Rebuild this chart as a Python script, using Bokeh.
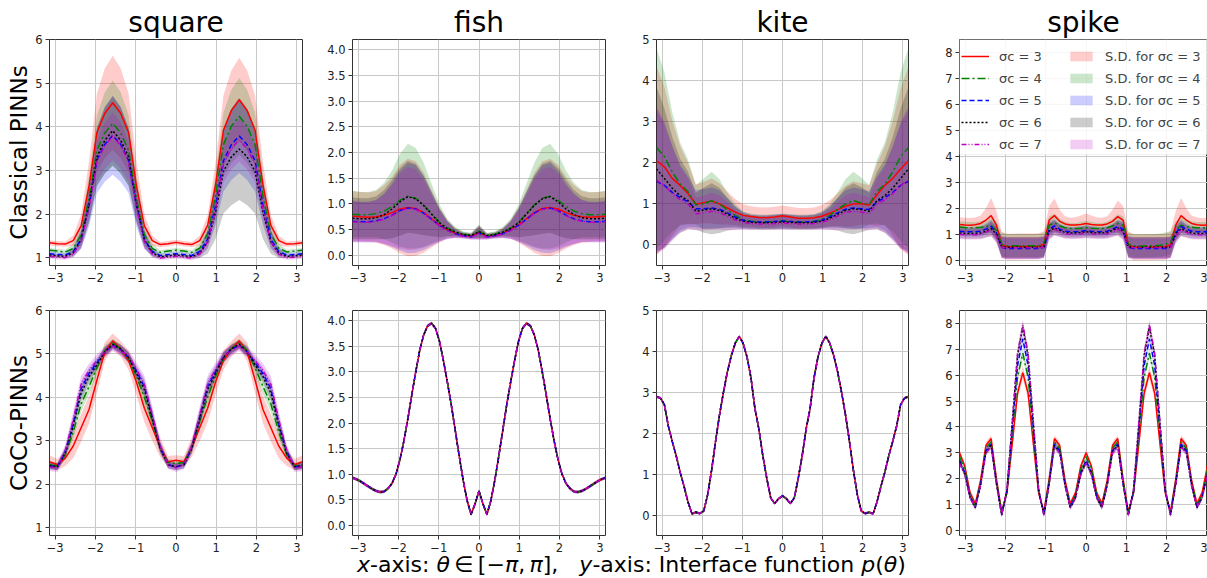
import numpy as np
from bokeh.plotting import figure
from bokeh.layouts import column, row
from bokeh.models import (Range1d, FixedTicker, Legend, LegendItem, Div,
                          PrintfTickFormatter, BoxAnnotation)
from bokeh.embed import file_html
from bokeh.resources import INLINE

# ---------------- data ----------------
shapes = ["square", "fish", "kite", "spike"]
row_names = ["Classical PINNs", "CoCo-PINNs"]
sigmas = [3, 4, 5, 6, 7]
x_ticks = [-3, -2, -1, 0, 1, 2, 3]

theta33 = np.linspace(-np.pi, np.pi, 33)
theta49 = np.linspace(-np.pi, np.pi, 49)
theta65 = np.linspace(-np.pi, np.pi, 65)

# --- Classical PINNs / square (33 samples) ---
sq_top_m3 = [1.34, 1.32, 1.31, 1.39, 1.73, 2.64, 3.87, 4.31, 4.55, 4.31, 3.87,
             2.64, 1.73, 1.39, 1.30, 1.32, 1.35, 1.32, 1.30, 1.39, 1.74, 2.67,
             3.92, 4.37, 4.62, 4.37, 3.92, 2.67, 1.74, 1.39, 1.31, 1.32, 1.34]
sq_top_m4 = [1.17, 1.15, 1.13, 1.21, 1.52, 2.35, 3.46, 3.86, 4.08, 3.86, 3.46,
             2.35, 1.52, 1.21, 1.12, 1.15, 1.17, 1.15, 1.12, 1.22, 1.54, 2.41,
             3.59, 4.01, 4.24, 4.01, 3.59, 2.41, 1.54, 1.22, 1.13, 1.15, 1.17]
sq_top_m5 = [1.09, 1.07, 1.06, 1.14, 1.42, 2.19, 3.23, 3.60, 3.80, 3.60, 3.23,
             2.19, 1.42, 1.14, 1.05, 1.07, 1.09, 1.07, 1.05, 1.14, 1.42, 2.19,
             3.22, 3.59, 3.79, 3.59, 3.22, 2.19, 1.42, 1.14, 1.06, 1.07, 1.09]
sq_top_m6 = [1.06, 1.04, 1.03, 1.11, 1.41, 2.22, 3.31, 3.69, 3.91, 3.69, 3.31,
             2.22, 1.41, 1.11, 1.02, 1.04, 1.06, 1.04, 1.02, 1.10, 1.36, 2.04,
             2.98, 3.31, 3.49, 3.31, 2.98, 2.04, 1.36, 1.10, 1.03, 1.04, 1.06]
sq_top_m7 = [1.03, 1.01, 1.00, 1.08, 1.37, 2.15, 3.20, 3.57, 3.78, 3.57, 3.20,
             2.15, 1.37, 1.08, 0.99, 1.01, 1.03, 1.01, 0.99, 1.08, 1.36, 2.11,
             3.14, 3.50, 3.70, 3.50, 3.14, 2.11, 1.36, 1.08, 1.00, 1.01, 1.03]
sq_top_sd3 = [0.06, 0.06, 0.06, 0.12, 0.26, 0.57, 0.90, 1.03, 1.08, 1.03, 0.90,
              0.57, 0.26, 0.12, 0.06, 0.06, 0.06, 0.06, 0.06, 0.11, 0.24, 0.51,
              0.80, 0.92, 0.96, 0.92, 0.80, 0.51, 0.24, 0.11, 0.06, 0.06, 0.06]
sq_top_sd4 = [0.05, 0.05, 0.05, 0.11, 0.24, 0.52, 0.81, 0.93, 0.98, 0.93, 0.81,
              0.52, 0.24, 0.11, 0.05, 0.05, 0.05, 0.05, 0.05, 0.10, 0.22, 0.47,
              0.73, 0.84, 0.88, 0.84, 0.73, 0.47, 0.22, 0.10, 0.05, 0.05, 0.05]
sq_top_sd5 = [0.05, 0.05, 0.05, 0.10, 0.22, 0.48, 0.75, 0.86, 0.90, 0.86, 0.75,
              0.48, 0.22, 0.10, 0.05, 0.05, 0.05, 0.05, 0.05, 0.10, 0.21, 0.45,
              0.71, 0.81, 0.85, 0.81, 0.71, 0.45, 0.21, 0.10, 0.05, 0.05, 0.05]
sq_top_sd6 = [0.04, 0.04, 0.04, 0.09, 0.19, 0.42, 0.66, 0.76, 0.80, 0.76, 0.66,
              0.42, 0.19, 0.09, 0.04, 0.04, 0.04, 0.04, 0.04, 0.11, 0.27, 0.61,
              0.97, 1.11, 1.17, 1.11, 0.97, 0.61, 0.27, 0.11, 0.04, 0.04, 0.04]
sq_top_sd7 = [0.05, 0.05, 0.05, 0.08, 0.15, 0.30, 0.46, 0.53, 0.55, 0.53, 0.46,
              0.30, 0.15, 0.08, 0.05, 0.05, 0.05, 0.05, 0.05, 0.08, 0.14, 0.28,
              0.42, 0.48, 0.50, 0.48, 0.42, 0.28, 0.14, 0.08, 0.05, 0.05, 0.05]

# --- Classical PINNs / fish (33 samples) ---
fi_top_m3 = [0.76, 0.75, 0.74, 0.75, 0.78, 0.83, 0.90, 0.93, 0.91, 0.83, 0.71,
             0.59, 0.50, 0.43, 0.39, 0.37, 0.44, 0.37, 0.39, 0.43, 0.50, 0.59,
             0.71, 0.83, 0.91, 0.93, 0.90, 0.83, 0.78, 0.75, 0.74, 0.75, 0.76]
fi_top_m4 = [0.80, 0.79, 0.79, 0.81, 0.86, 0.95, 1.07, 1.15, 1.11, 0.98, 0.81,
             0.64, 0.53, 0.46, 0.41, 0.39, 0.47, 0.39, 0.41, 0.46, 0.53, 0.64,
             0.81, 0.98, 1.11, 1.15, 1.07, 0.95, 0.86, 0.81, 0.79, 0.79, 0.80]
fi_top_m5 = [0.66, 0.65, 0.65, 0.67, 0.71, 0.78, 0.87, 0.92, 0.90, 0.82, 0.70,
             0.58, 0.49, 0.42, 0.38, 0.36, 0.43, 0.36, 0.38, 0.42, 0.49, 0.58,
             0.70, 0.82, 0.90, 0.92, 0.87, 0.78, 0.71, 0.67, 0.65, 0.65, 0.66]
fi_top_m6 = [0.72, 0.71, 0.71, 0.73, 0.79, 0.90, 1.04, 1.14, 1.10, 0.97, 0.80,
             0.63, 0.52, 0.45, 0.40, 0.38, 0.46, 0.38, 0.40, 0.45, 0.52, 0.63,
             0.80, 0.97, 1.10, 1.14, 1.04, 0.90, 0.79, 0.73, 0.71, 0.71, 0.72]
fi_top_m7 = [0.65, 0.64, 0.64, 0.66, 0.70, 0.77, 0.86, 0.91, 0.89, 0.81, 0.69,
             0.57, 0.48, 0.41, 0.37, 0.35, 0.42, 0.35, 0.37, 0.41, 0.48, 0.57,
             0.69, 0.81, 0.89, 0.91, 0.86, 0.77, 0.70, 0.66, 0.64, 0.64, 0.65]
fi_top_sd3 = [0.49, 0.48, 0.48, 0.50, 0.58, 0.70, 0.86, 0.95, 0.92, 0.78, 0.56,
              0.34, 0.18, 0.09, 0.05, 0.05, 0.13, 0.05, 0.05, 0.09, 0.18, 0.34,
              0.56, 0.78, 0.92, 0.95, 0.86, 0.70, 0.58, 0.50, 0.48, 0.48, 0.49]
fi_top_sd4 = [0.45, 0.44, 0.44, 0.46, 0.55, 0.70, 0.90, 1.02, 0.98, 0.82, 0.58,
              0.35, 0.18, 0.09, 0.05, 0.05, 0.13, 0.05, 0.05, 0.09, 0.18, 0.35,
              0.58, 0.82, 0.98, 1.02, 0.90, 0.70, 0.55, 0.46, 0.44, 0.44, 0.45]
fi_top_sd5 = [0.40, 0.39, 0.39, 0.41, 0.49, 0.62, 0.78, 0.88, 0.85, 0.72, 0.52,
              0.32, 0.17, 0.08, 0.05, 0.05, 0.12, 0.05, 0.05, 0.08, 0.17, 0.32,
              0.52, 0.72, 0.85, 0.88, 0.78, 0.62, 0.49, 0.41, 0.39, 0.39, 0.40]
fi_top_sd6 = [0.41, 0.40, 0.40, 0.42, 0.48, 0.57, 0.66, 0.70, 0.68, 0.58, 0.43,
              0.28, 0.15, 0.08, 0.05, 0.05, 0.12, 0.05, 0.05, 0.08, 0.15, 0.28,
              0.43, 0.58, 0.68, 0.70, 0.66, 0.57, 0.48, 0.42, 0.40, 0.40, 0.41]
fi_top_sd7 = [0.40, 0.39, 0.39, 0.41, 0.48, 0.59, 0.73, 0.81, 0.78, 0.66, 0.48,
              0.30, 0.16, 0.08, 0.05, 0.05, 0.12, 0.05, 0.05, 0.08, 0.16, 0.30,
              0.48, 0.66, 0.78, 0.81, 0.73, 0.59, 0.48, 0.41, 0.39, 0.39, 0.40]

# --- Classical PINNs / kite (33 samples) ---
ki_top_m3 = [2.05, 1.90, 1.62, 1.45, 1.25, 0.99, 1.03, 1.07, 1.00, 0.90, 0.80,
             0.72, 0.69, 0.67, 0.66, 0.68, 0.71, 0.68, 0.65, 0.65, 0.66, 0.70,
             0.77, 0.86, 0.94, 1.00, 1.00, 0.97, 1.22, 1.45, 1.62, 1.85, 2.05]
ki_top_m4 = [2.37, 2.15, 1.78, 1.48, 1.30, 0.98, 1.00, 1.08, 1.00, 0.85, 0.72,
             0.62, 0.58, 0.56, 0.56, 0.57, 0.58, 0.57, 0.56, 0.56, 0.57, 0.62,
             0.72, 0.86, 1.00, 1.08, 1.02, 0.98, 1.30, 1.48, 1.78, 2.15, 2.37]
ki_top_m5 = [1.55, 1.45, 1.28, 1.15, 1.05, 0.88, 0.88, 0.90, 0.87, 0.78, 0.68,
             0.60, 0.57, 0.56, 0.56, 0.57, 0.58, 0.57, 0.56, 0.56, 0.57, 0.60,
             0.68, 0.78, 0.87, 0.90, 0.88, 0.86, 1.05, 1.15, 1.28, 1.45, 1.55]
ki_top_m6 = [1.85, 1.62, 1.38, 1.20, 1.08, 0.82, 0.85, 0.88, 0.84, 0.75, 0.65,
             0.58, 0.55, 0.54, 0.54, 0.55, 0.56, 0.55, 0.54, 0.54, 0.55, 0.58,
             0.65, 0.75, 0.84, 0.88, 0.86, 0.82, 1.08, 1.20, 1.38, 1.62, 1.85]
ki_top_m7 = [1.58, 1.45, 1.25, 1.10, 1.00, 0.76, 0.78, 0.82, 0.79, 0.70, 0.61,
             0.55, 0.52, 0.51, 0.51, 0.52, 0.53, 0.52, 0.51, 0.51, 0.52, 0.55,
             0.61, 0.70, 0.79, 0.82, 0.80, 0.76, 1.00, 1.10, 1.25, 1.45, 1.58]
ki_top_sd3 = [2.30, 1.95, 1.40, 0.95, 0.75, 0.48, 0.50, 0.55, 0.50, 0.40, 0.32,
              0.27, 0.25, 0.25, 0.25, 0.25, 0.25, 0.25, 0.25, 0.25, 0.25, 0.27,
              0.32, 0.40, 0.50, 0.55, 0.50, 0.48, 0.75, 0.95, 1.40, 1.95, 2.30]
ki_top_sd4 = [2.43, 2.05, 1.45, 1.02, 0.78, 0.48, 0.62, 0.70, 0.60, 0.42, 0.28,
              0.20, 0.18, 0.18, 0.18, 0.18, 0.18, 0.18, 0.18, 0.18, 0.18, 0.20,
              0.28, 0.42, 0.60, 0.70, 0.62, 0.48, 0.78, 1.02, 1.45, 2.05, 2.43]
ki_top_sd5 = [1.75, 1.50, 1.12, 0.80, 0.62, 0.45, 0.48, 0.50, 0.46, 0.36, 0.26,
              0.20, 0.17, 0.16, 0.16, 0.17, 0.18, 0.17, 0.16, 0.16, 0.17, 0.20,
              0.26, 0.36, 0.46, 0.50, 0.48, 0.45, 0.62, 0.80, 1.12, 1.50, 1.75]
ki_top_sd6 = [2.00, 1.70, 1.25, 0.90, 0.70, 0.45, 0.55, 0.62, 0.55, 0.40, 0.28,
              0.20, 0.18, 0.17, 0.17, 0.18, 0.18, 0.18, 0.17, 0.17, 0.18, 0.20,
              0.28, 0.40, 0.55, 0.62, 0.55, 0.45, 0.70, 0.90, 1.25, 1.70, 2.00]
ki_top_sd7 = [1.80, 1.55, 1.15, 0.80, 0.62, 0.40, 0.42, 0.45, 0.42, 0.34, 0.24,
              0.18, 0.15, 0.14, 0.14, 0.15, 0.16, 0.15, 0.14, 0.14, 0.15, 0.18,
              0.24, 0.34, 0.42, 0.45, 0.42, 0.40, 0.62, 0.80, 1.15, 1.55, 1.80]

# --- Classical PINNs / spike (49 samples) ---
sp_top_m3 = [1.38, 1.36, 1.35, 1.37, 1.42, 1.55, 1.72,
             1.35, 0.60, 0.52, 0.52, 0.53, 0.53, 0.53,
             0.53, 0.54, 0.62, 1.55, 1.72, 1.50, 1.40,
             1.36, 1.36, 1.38, 1.42, 1.38, 1.36, 1.36,
             1.40, 1.50, 1.68, 1.55, 0.62, 0.50, 0.50,
             0.50, 0.50, 0.51, 0.51, 0.52, 0.60, 1.35,
             1.72, 1.55, 1.42, 1.37, 1.35, 1.36, 1.38]
sp_top_m4 = [1.28, 1.26, 1.25, 1.25, 1.27, 1.30, 1.35,
             1.15, 0.62, 0.56, 0.56, 0.56, 0.56, 0.56,
             0.56, 0.56, 0.62, 1.35, 1.45, 1.32, 1.25,
             1.22, 1.22, 1.23, 1.25, 1.23, 1.22, 1.22,
             1.25, 1.32, 1.42, 1.35, 0.62, 0.55, 0.55,
             0.55, 0.56, 0.56, 0.58, 0.62, 0.68, 1.15,
             1.35, 1.30, 1.27, 1.25, 1.25, 1.26, 1.28]
sp_top_m5 = [1.12, 1.10, 1.10, 1.10, 1.12, 1.20, 1.30,
             1.05, 0.50, 0.45, 0.45, 0.45, 0.45, 0.45,
             0.45, 0.45, 0.50, 1.20, 1.32, 1.20, 1.12,
             1.10, 1.10, 1.12, 1.15, 1.12, 1.10, 1.10,
             1.12, 1.20, 1.30, 1.20, 0.50, 0.45, 0.45,
             0.45, 0.45, 0.45, 0.45, 0.45, 0.50, 1.05,
             1.30, 1.20, 1.12, 1.10, 1.10, 1.10, 1.12]
sp_top_m6 = [1.05, 1.03, 1.03, 1.03, 1.05, 1.12, 1.22,
             1.00, 0.52, 0.50, 0.50, 0.50, 0.50, 0.50,
             0.50, 0.50, 0.52, 1.12, 1.25, 1.15, 1.07,
             1.05, 1.05, 1.07, 1.10, 1.07, 1.05, 1.05,
             1.07, 1.15, 1.25, 1.12, 0.52, 0.50, 0.50,
             0.50, 0.50, 0.50, 0.50, 0.50, 0.52, 1.00,
             1.22, 1.12, 1.05, 1.03, 1.03, 1.03, 1.05]
sp_top_m7 = [1.00, 0.98, 0.98, 0.98, 1.00, 1.08, 1.18,
             0.95, 0.50, 0.48, 0.48, 0.48, 0.48, 0.48,
             0.48, 0.48, 0.50, 1.08, 1.20, 1.10, 1.02,
             1.00, 1.00, 1.02, 1.05, 1.02, 1.00, 1.00,
             1.02, 1.10, 1.20, 1.08, 0.50, 0.48, 0.48,
             0.48, 0.48, 0.48, 0.48, 0.48, 0.50, 0.95,
             1.18, 1.08, 1.00, 0.98, 0.98, 0.98, 1.00]
sp_top_sd3 = [0.28, 0.28, 0.28, 0.28, 0.30, 0.45, 0.68,
              0.55, 0.50, 0.50, 0.50, 0.50, 0.50, 0.50,
              0.50, 0.50, 0.50, 0.55, 0.66, 0.45, 0.30,
              0.28, 0.30, 0.34, 0.38, 0.34, 0.30, 0.28,
              0.30, 0.45, 0.62, 0.55, 0.50, 0.50, 0.50,
              0.50, 0.50, 0.50, 0.50, 0.50, 0.50, 0.55,
              0.68, 0.45, 0.30, 0.28, 0.28, 0.28, 0.28]
sp_top_sd4 = [0.22, 0.22, 0.22, 0.22, 0.23, 0.26, 0.30,
              0.35, 0.45, 0.45, 0.45, 0.45, 0.45, 0.45,
              0.45, 0.45, 0.45, 0.35, 0.35, 0.27, 0.23,
              0.22, 0.22, 0.24, 0.26, 0.24, 0.22, 0.22,
              0.23, 0.27, 0.35, 0.35, 0.45, 0.45, 0.45,
              0.45, 0.45, 0.45, 0.45, 0.45, 0.45, 0.35,
              0.30, 0.26, 0.23, 0.22, 0.22, 0.22, 0.22]
sp_top_sd5 = [0.18, 0.18, 0.18, 0.18, 0.19, 0.21, 0.25,
              0.30, 0.40, 0.40, 0.40, 0.40, 0.40, 0.40,
              0.40, 0.40, 0.40, 0.30, 0.25, 0.21, 0.19,
              0.18, 0.18, 0.19, 0.20, 0.19, 0.18, 0.18,
              0.19, 0.21, 0.25, 0.30, 0.40, 0.40, 0.40,
              0.40, 0.40, 0.40, 0.40, 0.40, 0.40, 0.30,
              0.25, 0.21, 0.19, 0.18, 0.18, 0.18, 0.18]
sp_top_sd6 = [0.20, 0.20, 0.20, 0.20, 0.21, 0.23, 0.28,
              0.30, 0.40, 0.40, 0.40, 0.40, 0.40, 0.40,
              0.40, 0.40, 0.40, 0.30, 0.28, 0.23, 0.21,
              0.20, 0.20, 0.21, 0.22, 0.21, 0.20, 0.20,
              0.21, 0.23, 0.28, 0.30, 0.40, 0.40, 0.40,
              0.40, 0.40, 0.40, 0.40, 0.40, 0.40, 0.30,
              0.28, 0.23, 0.21, 0.20, 0.20, 0.20, 0.20]
sp_top_sd7 = [0.18, 0.18, 0.18, 0.18, 0.19, 0.21, 0.25,
              0.30, 0.42, 0.42, 0.42, 0.42, 0.42, 0.42,
              0.42, 0.42, 0.42, 0.30, 0.25, 0.21, 0.19,
              0.18, 0.18, 0.19, 0.20, 0.19, 0.18, 0.18,
              0.19, 0.21, 0.25, 0.30, 0.42, 0.42, 0.42,
              0.42, 0.42, 0.42, 0.42, 0.42, 0.42, 0.30,
              0.25, 0.21, 0.19, 0.18, 0.18, 0.18, 0.18]

# --- CoCo-PINNs / square (33 samples) ---
sq_bot_m3 = [2.52, 2.45, 2.60, 2.88, 3.30, 3.72, 4.40, 5.05, 5.30, 5.12, 4.85,
             4.35, 3.75, 3.30, 2.85, 2.52, 2.55, 2.52, 2.85, 3.30, 3.75, 4.35,
             4.85, 5.12, 5.30, 5.05, 4.40, 3.72, 3.30, 2.88, 2.60, 2.45, 2.52]
sq_bot_m4 = [2.45, 2.42, 2.68, 3.20, 3.85, 4.25, 4.68, 5.08, 5.25, 5.12, 4.90,
             4.48, 4.00, 3.45, 2.85, 2.50, 2.48, 2.50, 2.85, 3.45, 4.00, 4.48,
             4.90, 5.12, 5.25, 5.08, 4.68, 4.25, 3.85, 3.20, 2.68, 2.42, 2.45]
sq_bot_m5 = [2.42, 2.40, 2.75, 3.40, 4.20, 4.55, 4.80, 5.05, 5.20, 5.10, 4.92,
             4.60, 4.25, 3.55, 2.85, 2.45, 2.40, 2.45, 2.85, 3.55, 4.25, 4.60,
             4.92, 5.10, 5.20, 5.05, 4.80, 4.55, 4.20, 3.40, 2.75, 2.40, 2.42]
sq_bot_m6 = [2.43, 2.40, 2.72, 3.35, 4.10, 4.48, 4.75, 5.05, 5.22, 5.12, 4.92,
             4.55, 4.18, 3.50, 2.82, 2.45, 2.40, 2.45, 2.82, 3.50, 4.18, 4.55,
             4.92, 5.12, 5.22, 5.05, 4.75, 4.48, 4.10, 3.35, 2.72, 2.40, 2.43]
sq_bot_m7 = [2.40, 2.38, 2.78, 3.48, 4.30, 4.62, 4.85, 5.05, 5.18, 5.08, 4.95,
             4.65, 4.30, 3.60, 2.88, 2.45, 2.38, 2.45, 2.88, 3.60, 4.30, 4.65,
             4.95, 5.08, 5.18, 5.05, 4.85, 4.62, 4.30, 3.48, 2.78, 2.38, 2.40]
sq_bot_sd3 = [0.15, 0.13, 0.18, 0.28, 0.32, 0.32, 0.30, 0.22, 0.17, 0.18, 0.22,
              0.30, 0.32, 0.30, 0.22, 0.13, 0.12, 0.13, 0.22, 0.30, 0.32, 0.30,
              0.22, 0.18, 0.17, 0.22, 0.30, 0.32, 0.32, 0.28, 0.18, 0.13, 0.15]
sq_bot_sd4 = [0.08, 0.08, 0.10, 0.15, 0.18, 0.18, 0.16, 0.12, 0.10, 0.10, 0.12,
              0.16, 0.18, 0.16, 0.12, 0.08, 0.07, 0.08, 0.12, 0.16, 0.18, 0.16,
              0.12, 0.10, 0.10, 0.12, 0.16, 0.18, 0.18, 0.15, 0.10, 0.08, 0.08]
sq_bot_sd5 = [0.08, 0.08, 0.12, 0.18, 0.18, 0.14, 0.12, 0.10, 0.10, 0.10, 0.12,
              0.14, 0.18, 0.18, 0.12, 0.08, 0.08, 0.08, 0.12, 0.18, 0.18, 0.14,
              0.12, 0.10, 0.10, 0.10, 0.12, 0.14, 0.18, 0.18, 0.12, 0.08, 0.08]
sq_bot_sd6 = [0.08, 0.08, 0.12, 0.18, 0.18, 0.14, 0.12, 0.10, 0.10, 0.10, 0.12,
              0.14, 0.18, 0.18, 0.12, 0.08, 0.08, 0.08, 0.12, 0.18, 0.18, 0.14,
              0.12, 0.10, 0.10, 0.10, 0.12, 0.14, 0.18, 0.18, 0.12, 0.08, 0.08]
sq_bot_sd7 = [0.10, 0.10, 0.14, 0.20, 0.20, 0.16, 0.14, 0.12, 0.12, 0.12, 0.14,
              0.16, 0.20, 0.20, 0.14, 0.10, 0.10, 0.10, 0.14, 0.20, 0.20, 0.16,
              0.14, 0.12, 0.12, 0.12, 0.14, 0.16, 0.20, 0.20, 0.14, 0.10, 0.10]

# --- CoCo-PINNs / fish and kite (65 samples; all five runs coincide) ---
fi_bot_m = [0.93, 0.90, 0.86, 0.81, 0.76, 0.71, 0.67, 0.65, 0.66, 0.72, 0.82,
            1.00, 1.28, 1.65, 2.08, 2.55, 3.00, 3.42, 3.72, 3.90, 3.95, 3.85,
            3.60, 3.22, 2.80, 2.35, 1.85, 1.35, 0.88, 0.48, 0.21, 0.42, 0.67,
            0.42, 0.21, 0.48, 0.88, 1.35, 1.85, 2.35, 2.80, 3.22, 3.60, 3.85,
            3.95, 3.90, 3.72, 3.42, 3.00, 2.55, 2.08, 1.65, 1.28, 1.00, 0.82,
            0.72, 0.66, 0.65, 0.67, 0.71, 0.76, 0.81, 0.86, 0.90, 0.93]
ki_bot_m = [2.89, 2.86, 2.70, 2.18, 1.80, 1.45, 1.05, 0.70, 0.32, 0.03, 0.07,
            0.04, 0.10, 0.50, 1.10, 1.80, 2.45, 3.00, 3.50, 3.90, 4.20, 4.37,
            4.20, 3.86, 3.35, 2.60, 2.10, 1.45, 0.90, 0.42, 0.28, 0.40, 0.47,
            0.40, 0.28, 0.42, 0.90, 1.45, 2.10, 2.60, 3.35, 3.86, 4.20, 4.37,
            4.20, 3.90, 3.50, 3.00, 2.45, 1.80, 1.10, 0.50, 0.10, 0.04, 0.07,
            0.03, 0.32, 0.70, 1.05, 1.45, 1.80, 2.18, 2.70, 2.86, 2.89]
smooth_bot_sd = 0.03

# --- CoCo-PINNs / spike (49 samples) ---
sp_bot_m3 = [3.00, 2.49, 1.46, 1.03, 1.94, 3.28, 3.55,
             2.00, 0.72, 1.45, 3.35, 5.30, 6.10, 5.30,
             3.35, 1.45, 0.72, 2.00, 3.55, 3.28, 1.94,
             1.03, 1.46, 2.49, 3.00, 2.49, 1.46, 1.03,
             1.94, 3.28, 3.55, 2.00, 0.72, 1.45, 3.35,
             5.30, 6.10, 5.30, 3.35, 1.45, 0.72, 2.00,
             3.55, 3.28, 1.94, 1.03, 1.46, 2.49, 3.00]
sp_bot_m4 = [2.85, 2.36, 1.37, 0.95, 1.84, 3.17, 3.42,
             1.90, 0.66, 1.49, 3.69, 5.92, 6.85, 5.92,
             3.69, 1.49, 0.66, 1.90, 3.42, 3.17, 1.84,
             0.95, 1.37, 2.36, 2.85, 2.36, 1.37, 0.95,
             1.84, 3.17, 3.42, 1.90, 0.66, 1.49, 3.69,
             5.92, 6.85, 5.92, 3.69, 1.49, 0.66, 1.90,
             3.42, 3.17, 1.84, 0.95, 1.37, 2.36, 2.85]
sp_bot_m5 = [2.70, 2.23, 1.30, 0.90, 1.78, 3.08, 3.33,
             1.83, 0.61, 1.52, 3.93, 6.38, 7.40, 6.38,
             3.93, 1.52, 0.61, 1.83, 3.33, 3.08, 1.78,
             0.90, 1.30, 2.23, 2.70, 2.23, 1.30, 0.90,
             1.78, 3.08, 3.33, 1.83, 0.61, 1.52, 3.93,
             6.38, 7.40, 6.38, 3.93, 1.52, 0.61, 1.83,
             3.33, 3.08, 1.78, 0.90, 1.30, 2.23, 2.70]
sp_bot_m6 = [2.65, 2.19, 1.27, 0.88, 1.74, 3.03, 3.28,
             1.80, 0.59, 1.58, 4.15, 6.75, 7.85, 6.75,
             4.15, 1.58, 0.59, 1.80, 3.28, 3.03, 1.74,
             0.88, 1.27, 2.19, 2.65, 2.19, 1.27, 0.88,
             1.74, 3.03, 3.28, 1.80, 0.59, 1.58, 4.15,
             6.75, 7.85, 6.75, 4.15, 1.58, 0.59, 1.80,
             3.28, 3.03, 1.74, 0.88, 1.27, 2.19, 2.65]
sp_bot_m7 = [2.60, 2.15, 1.26, 0.88, 1.73, 2.99, 3.23,
             1.78, 0.59, 1.59, 4.20, 6.85, 7.95, 6.85,
             4.20, 1.59, 0.59, 1.78, 3.23, 2.99, 1.73,
             0.88, 1.26, 2.15, 2.60, 2.15, 1.26, 0.88,
             1.73, 2.99, 3.23, 1.78, 0.59, 1.59, 4.20,
             6.85, 7.95, 6.85, 4.20, 1.59, 0.59, 1.78,
             3.23, 2.99, 1.73, 0.88, 1.26, 2.15, 2.60]
sp_bot_sd3 = [0.12, 0.12, 0.12, 0.10, 0.12, 0.14, 0.14,
              0.12, 0.10, 0.14, 0.20, 0.24, 0.25, 0.24,
              0.20, 0.14, 0.10, 0.12, 0.14, 0.14, 0.12,
              0.10, 0.12, 0.12, 0.12, 0.12, 0.12, 0.10,
              0.12, 0.14, 0.14, 0.12, 0.10, 0.14, 0.20,
              0.24, 0.25, 0.24, 0.20, 0.14, 0.10, 0.12,
              0.14, 0.14, 0.12, 0.10, 0.12, 0.12, 0.12]
sp_bot_sd4 = [0.10, 0.10, 0.10, 0.09, 0.10, 0.12, 0.12,
              0.10, 0.09, 0.12, 0.16, 0.19, 0.20, 0.19,
              0.16, 0.12, 0.09, 0.10, 0.12, 0.12, 0.10,
              0.09, 0.10, 0.10, 0.10, 0.10, 0.10, 0.09,
              0.10, 0.12, 0.12, 0.10, 0.09, 0.12, 0.16,
              0.19, 0.20, 0.19, 0.16, 0.12, 0.09, 0.10,
              0.12, 0.12, 0.10, 0.09, 0.10, 0.10, 0.10]

# ---------------- assembly ----------------
panels = {
    (0, 0): (theta33, [sq_top_m3, sq_top_m4, sq_top_m5, sq_top_m6, sq_top_m7],
             [sq_top_sd3, sq_top_sd4, sq_top_sd5, sq_top_sd6, sq_top_sd7]),
    (0, 1): (theta33, [fi_top_m3, fi_top_m4, fi_top_m5, fi_top_m6, fi_top_m7],
             [fi_top_sd3, fi_top_sd4, fi_top_sd5, fi_top_sd6, fi_top_sd7]),
    (0, 2): (theta33, [ki_top_m3, ki_top_m4, ki_top_m5, ki_top_m6, ki_top_m7],
             [ki_top_sd3, ki_top_sd4, ki_top_sd5, ki_top_sd6, ki_top_sd7]),
    (0, 3): (theta49, [sp_top_m3, sp_top_m4, sp_top_m5, sp_top_m6, sp_top_m7],
             [sp_top_sd3, sp_top_sd4, sp_top_sd5, sp_top_sd6, sp_top_sd7]),
    (1, 0): (theta33, [sq_bot_m3, sq_bot_m4, sq_bot_m5, sq_bot_m6, sq_bot_m7],
             [sq_bot_sd3, sq_bot_sd4, sq_bot_sd5, sq_bot_sd6, sq_bot_sd7]),
    (1, 1): (theta65, [fi_bot_m] * 5, [smooth_bot_sd] * 5),
    (1, 2): (theta65, [ki_bot_m] * 5, [smooth_bot_sd] * 5),
    (1, 3): (theta49, [sp_bot_m3, sp_bot_m4, sp_bot_m5, sp_bot_m6, sp_bot_m7],
             [sp_bot_sd3, sp_bot_sd4, sp_bot_sd4, sp_bot_sd4, sp_bot_sd4]),
}

y_ranges = [(0.82, 6.0), (-0.2, 4.2), (-0.5, 5.0), (-0.2, 8.5)]
y_ticks = [[1, 2, 3, 4, 5, 6], [0, 0.5, 1, 1.5, 2, 2.5, 3, 3.5, 4],
           [0, 1, 2, 3, 4, 5], [0, 1, 2, 3, 4, 5, 6, 7, 8]]

COLORS = ["#ff0000", "#008000", "#0000ff", "#000000", "#bf00bf"]
DASHES = ["solid", "8 3 2 3", "5 3", "2 2", "5 2 1 2 1 2"]
FONT = "DejaVu Sans"

col_left = [49, 30, 26, 24]
col_right = [20, 25, 27, 0]
frame_w = [253, 253, 252, 248]
x_end = [np.pi, np.pi, np.pi, 3.012]
minus = {-3: "\u22123", -2: "\u22122", -1: "\u22121"}

rows = []
for r in range(2):
    figs = []
    for c in range(4):
        kw = dict(frame_width=frame_w[c], min_border_left=col_left[c],
                  min_border_right=col_right[c],
                  x_range=Range1d(-np.pi, x_end[c]), y_range=Range1d(*y_ranges[c]),
                  output_backend="svg", toolbar_location=None,
                  background_fill_color="white", border_fill_color="white")
        if r == 0:
            kw.update(frame_height=226, min_border_top=39, min_border_bottom=25, title=shapes[c])
        else:
            kw.update(frame_height=225, min_border_top=20, min_border_bottom=19)
        p = figure(**kw)
        if r == 0:
            p.title.text_font_size = "28px"
            p.title.text_font = FONT
            p.title.text_font_style = "normal"
            p.title.align = "center"
            p.title.standoff = 1
            p.title.text_color = "black"
        p.outline_line_color = "#333333"
        p.outline_line_width = 1
        for ax in (p.xaxis[0], p.yaxis[0]):
            ax.axis_line_color = None
            ax.major_tick_line_color = "#333333"
            ax.major_tick_out = 4
            ax.major_tick_in = 0
            ax.minor_tick_line_color = None
            ax.major_label_text_font = FONT
            ax.major_label_text_font_size = "11.5px"
            ax.major_label_text_color = "#222222"
            ax.major_label_standoff = 3
        p.xaxis.ticker = FixedTicker(ticks=x_ticks)
        p.xaxis.major_label_overrides = minus
        p.yaxis.ticker = FixedTicker(ticks=y_ticks[c])
        if c == 1:
            p.yaxis.formatter = PrintfTickFormatter(format="%.1f")
        p.grid.grid_line_color = "#c8c8c8"
        p.grid.grid_line_width = 1
        if c == 0:
            p.yaxis.axis_label = row_names[r]
            p.yaxis.axis_label_text_font = FONT
            p.yaxis.axis_label_text_font_size = "23px"
            p.yaxis.axis_label_text_font_style = "normal"
            p.yaxis.axis_label_text_color = "black"
            p.yaxis.axis_label_standoff = 0

        xs, means, sds = panels[(r, c)]
        bands, lines = [], []
        for k in range(5):
            m = np.asarray(means[k], dtype=float)
            s = np.asarray(sds[k], dtype=float)
            bands.append(p.varea(x=xs, y1=m - s, y2=m + s, fill_color=COLORS[k], fill_alpha=0.2))
        for k in range(5):
            lines.append(p.line(x=xs, y=means[k], line_color=COLORS[k], line_width=1.5,
                                line_dash=DASHES[k]))
        if r == 0 and c == 3:
            # legend frame (matplotlib-like translucent box)
            p.add_layout(BoxAnnotation(bottom=4.07, fill_color="white", fill_alpha=0.85,
                                       line_color="#cccccc", line_width=1))
            leg_kw = dict(orientation="vertical", label_text_font=FONT,
                          label_text_font_size="13px", glyph_width=28, glyph_height=12,
                          label_height=16, label_standoff=10, spacing=6, padding=4, margin=0,
                          border_line_color=None, background_fill_alpha=0.0)
            items1 = [LegendItem(label=f"\u03c3c = {s}", renderers=[lines[k]])
                      for k, s in enumerate(sigmas)]
            items2 = [LegendItem(label=f"S.D. for \u03c3c = {s}", renderers=[bands[k]])
                      for k, s in enumerate(sigmas)]
            p.add_layout(Legend(items=items1, location=(2, 113), **leg_kw))
            p.add_layout(Legend(items=items2, location=(108, 113), **leg_kw))
        figs.append(p)
    rows.append(row(*figs))

xlabel_html = ('<div style="margin-left:357px; font-family:\'DejaVu Sans\'; font-size:22px; '
               'line-height:22px; white-space:nowrap; color:black;">'
               '<i>x</i>-axis: <i>\u03b8</i>\u2009\u2208\u2009[\u2212<i>\u03c0</i>,\u2009<i>\u03c0</i>],'
               '&nbsp;&nbsp;&nbsp;<i>y</i>-axis: Interface function <i>p</i>(<i>\u03b8</i>)</div>')
xlab = Div(text=xlabel_html, width=1207, height=24, margin=(0, 0, 0, 0))

layout = column(rows[0], rows[1], xlab)
open("out.html", "w").write(file_html(layout, INLINE))
